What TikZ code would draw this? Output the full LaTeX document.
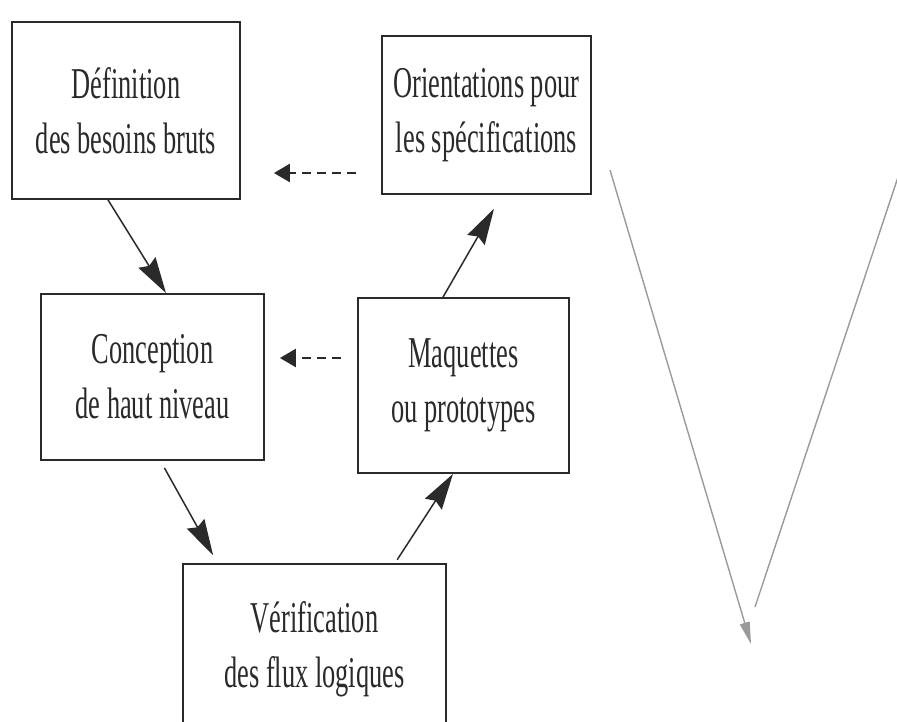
\documentclass[tikz,border=0pt]{standalone}
\usepackage{fontspec}
\setmainfont{Liberation Serif}[FakeStretch=0.6]
\usetikzlibrary{arrows.meta}
\definecolor{ink}{HTML}{2A2A2A}
\definecolor{veegray}{HTML}{9A9A9A}
\begin{document}
\begin{tikzpicture}[x=1pt,y=-1pt,
  stage/.style={draw=ink, line width=1.8pt, align=center, inner sep=0pt,
    font=\fontsize{44}{55}\selectfont, text=ink},
  flow/.style={draw=ink, line width=1.5pt,
    -{Stealth[length=36pt,width=20pt,inset=4pt]}},
  feedback/.style={draw=ink, line width=2.5pt, dash pattern=on 9pt off 6pt,
    -{Triangle[length=16pt,width=18pt]}},
  vee/.style={draw=veegray, line width=1.4pt}]
\useasboundingbox (0,0) rectangle (897,722);
\clip (0,0) rectangle (897,722);

% stages
\node[stage, minimum width=228pt, minimum height=177pt] (A) at (126,110.5)
  {Définition\\des besoins bruts};
\node[stage, minimum width=209pt, minimum height=158pt] (B) at (486.5,115)
  {Orientations pour\\les spécifications};
\node[stage, minimum width=223pt, minimum height=166pt] (C) at (152.5,377)
  {Conception\\de haut niveau};
\node[stage, minimum width=211pt, minimum height=175pt] (D) at (463.5,385.5)
  {Maquettes\\ou prototypes};
\node[stage, minimum width=263pt, minimum height=171pt] (E) at (314.5,649.5)
  {Vérification\\des flux logiques};

% main flow
\draw[flow] ([xshift=-18pt]A.south) -- ([xshift=13.5pt]C.north);
\draw[flow, shorten <=8pt, shorten >=9pt] ([xshift=8pt]C.south) -- ([xshift=-97pt]E.north);
\draw[flow, shorten <=4pt] ([xshift=80.5pt]E.north) -- ([xshift=-10.5pt]D.south);
\draw[flow, shorten >=16pt] ([xshift=-20.5pt]D.north) -- ([xshift=15.5pt]B.south);

% feedback
\draw[feedback, shorten <=25pt, shorten >=33pt] (B.west |- 0,173) -- (A.east |- 0,173);
\draw[feedback, shorten <=16pt, shorten >=15pt] (D.west |- 0,358) -- (C.east |- 0,358);

% V on the right
\coordinate (vl) at (610,170);
\coordinate (vt) at (751,644);
\coordinate (vr) at (905,156);
\coordinate (vb) at (755,607);
\draw[vee, -{Triangle[length=22pt,width=10pt]}] (vl) -- (vt);
\draw[vee] (vr) -- (vb);
\end{tikzpicture}
\end{document}
